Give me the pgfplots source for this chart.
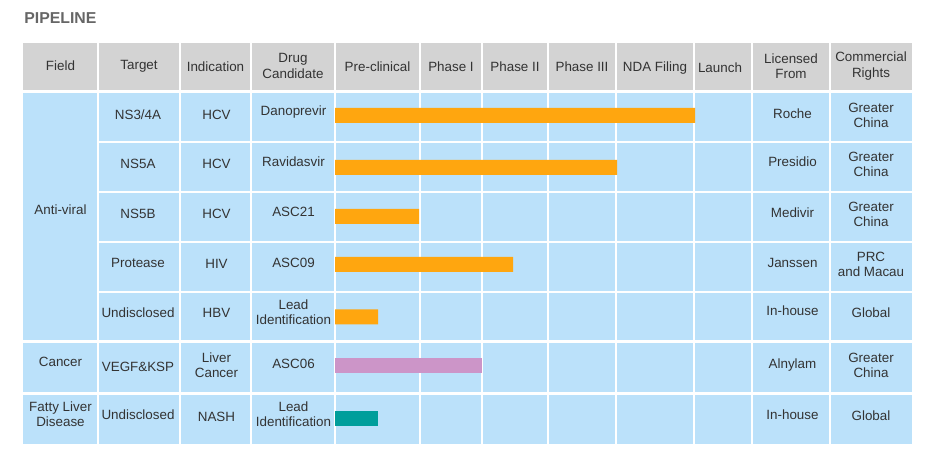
\documentclass[border=0pt]{standalone}
\usepackage{fontspec}
\setmainfont{Liberation Sans}
\usepackage{pgfplots}
\usepackage{pgfplotstable}
\pgfplotsset{compat=1.18}

\definecolor{hdr}{HTML}{D3D3D3}
\definecolor{cell}{HTML}{BBE1FA}
\definecolor{barorange}{HTML}{FFA60F}
\definecolor{barpink}{HTML}{CC95C8}
\definecolor{barteal}{HTML}{009E9B}
\definecolor{txt}{HTML}{333333}
\definecolor{ttl}{HTML}{666666}

% x = pixel column - 335 (start of pre-clinical), y = pixel row
\pgfplotstableread{
y     end
115.5 360
167.5 282
216.5 84
264.5 178
317   43
}\antiviral
\pgfplotstableread{
y     end
365.5 147
}\cancer
\pgfplotstableread{
y     end
418.5 43
}\nash

\begin{document}
\begin{tikzpicture}[
  lbl/.style={font=\fontsize{6.7}{7.6}\selectfont, text=txt, align=center, inner sep=0pt},
  gap/.style={white, line width=1pt},
  thick gap/.style={white, line width=1.5pt},
]
\begin{axis}[
  scale only axis, width=466pt, height=235pt,
  xmin=-335, xmax=597, ymin=0, ymax=470, y dir=reverse,
  enlargelimits=false,
  hide axis, clip=false,
  xbar, bar width=15, bar shift=0,
]
\path (rel axis cs:0,0) rectangle (rel axis cs:1,1);

% title
\node[anchor=west, inner sep=0pt, text=ttl, font=\fontsize{7.9}{9}\selectfont\bfseries]
  at (axis cs:-311,18) {PIPELINE};

% cell backgrounds
\fill[hdr] (axis cs:-312,43) rectangle (axis cs:577,92);
\fill[cell] (axis cs:-312,92) rectangle (axis cs:577,444);

% white grid
\pgfplotsinvokeforeach{-237,-155,-84,0,85,147,213,281,359,417,495}{
  \draw[gap] (axis cs:#1,43) -- (axis cs:#1,444);
}
\pgfplotsinvokeforeach{142,192,242,292}{
  \draw[gap] (axis cs:-237,#1) -- (axis cs:577,#1);
}
\draw[thick gap] (axis cs:-312,92) -- (axis cs:577,92);
\draw[thick gap] (axis cs:-312,342) -- (axis cs:577,342);
\draw[thick gap] (axis cs:-312,393) -- (axis cs:577,393);

% header
\node[lbl] at (axis cs:-274.5,66) {Field};
\node[lbl] at (axis cs:-196,66) {Target};
\node[lbl] at (axis cs:-119.5,67) {Indication};
\node[lbl] at (axis cs:-42,66) {Drug\\Candidate};
\node[lbl] at (axis cs:42.5,67) {Pre-clinical};
\node[lbl] at (axis cs:116,67) {Phase I};
\node[lbl] at (axis cs:180,67) {Phase II};
\node[lbl] at (axis cs:247,67) {Phase III};
\node[lbl] at (axis cs:320,68) {NDA Filing};
\node[lbl] at (axis cs:385,68) {Launch};
\node[lbl] at (axis cs:456,66) {Licensed\\From};
\node[lbl] at (axis cs:536,66) {Commercial\\Rights};

% field column
\node[lbl] at (axis cs:-274.5,210) {Anti-viral};
\node[lbl] at (axis cs:-274.5,362) {Cancer};
\node[lbl] at (axis cs:-274.5,414) {Fatty Liver\\Disease};

% target column
\node[lbl] at (axis cs:-197,115) {NS3/4A};
\node[lbl] at (axis cs:-197,164) {NS5A};
\node[lbl] at (axis cs:-197,214) {NS5B};
\node[lbl] at (axis cs:-197,263) {Protease};
\node[lbl] at (axis cs:-197,313) {Undisclosed};
\node[lbl] at (axis cs:-197,367) {VEGF\&KSP};
\node[lbl] at (axis cs:-197,415) {Undisclosed};

% indication column
\node[lbl] at (axis cs:-118.5,115) {HCV};
\node[lbl] at (axis cs:-118.5,164) {HCV};
\node[lbl] at (axis cs:-118.5,214) {HCV};
\node[lbl] at (axis cs:-118.5,264) {HIV};
\node[lbl] at (axis cs:-118.5,313) {HBV};
\node[lbl] at (axis cs:-118.5,365) {Liver\\Cancer};
\node[lbl] at (axis cs:-118.5,417) {NASH};

% drug candidate column
\node[lbl] at (axis cs:-41.5,112) {Danoprevir};
\node[lbl] at (axis cs:-41.5,162) {Ravidasvir};
\node[lbl] at (axis cs:-41.5,212) {ASC21};
\node[lbl] at (axis cs:-41.5,263) {ASC09};
\node[lbl] at (axis cs:-41.5,312) {Lead\\Identification};
\node[lbl] at (axis cs:-41.5,364) {ASC06};
\node[lbl] at (axis cs:-41.5,414) {Lead\\Identification};

% licensed from column
\node[lbl] at (axis cs:457.5,114) {Roche};
\node[lbl] at (axis cs:457.5,162) {Presidio};
\node[lbl] at (axis cs:457.5,213) {Medivir};
\node[lbl] at (axis cs:457.5,263) {Janssen};
\node[lbl] at (axis cs:457.5,311) {In-house};
\node[lbl] at (axis cs:457.5,365) {Alnylam};
\node[lbl] at (axis cs:457.5,415) {In-house};

% commercial rights column
\node[lbl] at (axis cs:536,115) {Greater\\China};
\node[lbl] at (axis cs:536,164) {Greater\\China};
\node[lbl] at (axis cs:536,214) {Greater\\China};
\node[lbl] at (axis cs:536,264) {PRC\\and Macau};
\node[lbl] at (axis cs:536,313) {Global};
\node[lbl] at (axis cs:536,365) {Greater\\China};
\node[lbl] at (axis cs:536,416) {Global};

% bars
\addplot[fill=barorange, draw=none] table[x=end, y=y] {\antiviral};
\addplot[fill=barpink, draw=none] table[x=end, y=y] {\cancer};
\addplot[fill=barteal, draw=none] table[x=end, y=y] {\nash};
\end{axis}
\end{tikzpicture}
\end{document}
